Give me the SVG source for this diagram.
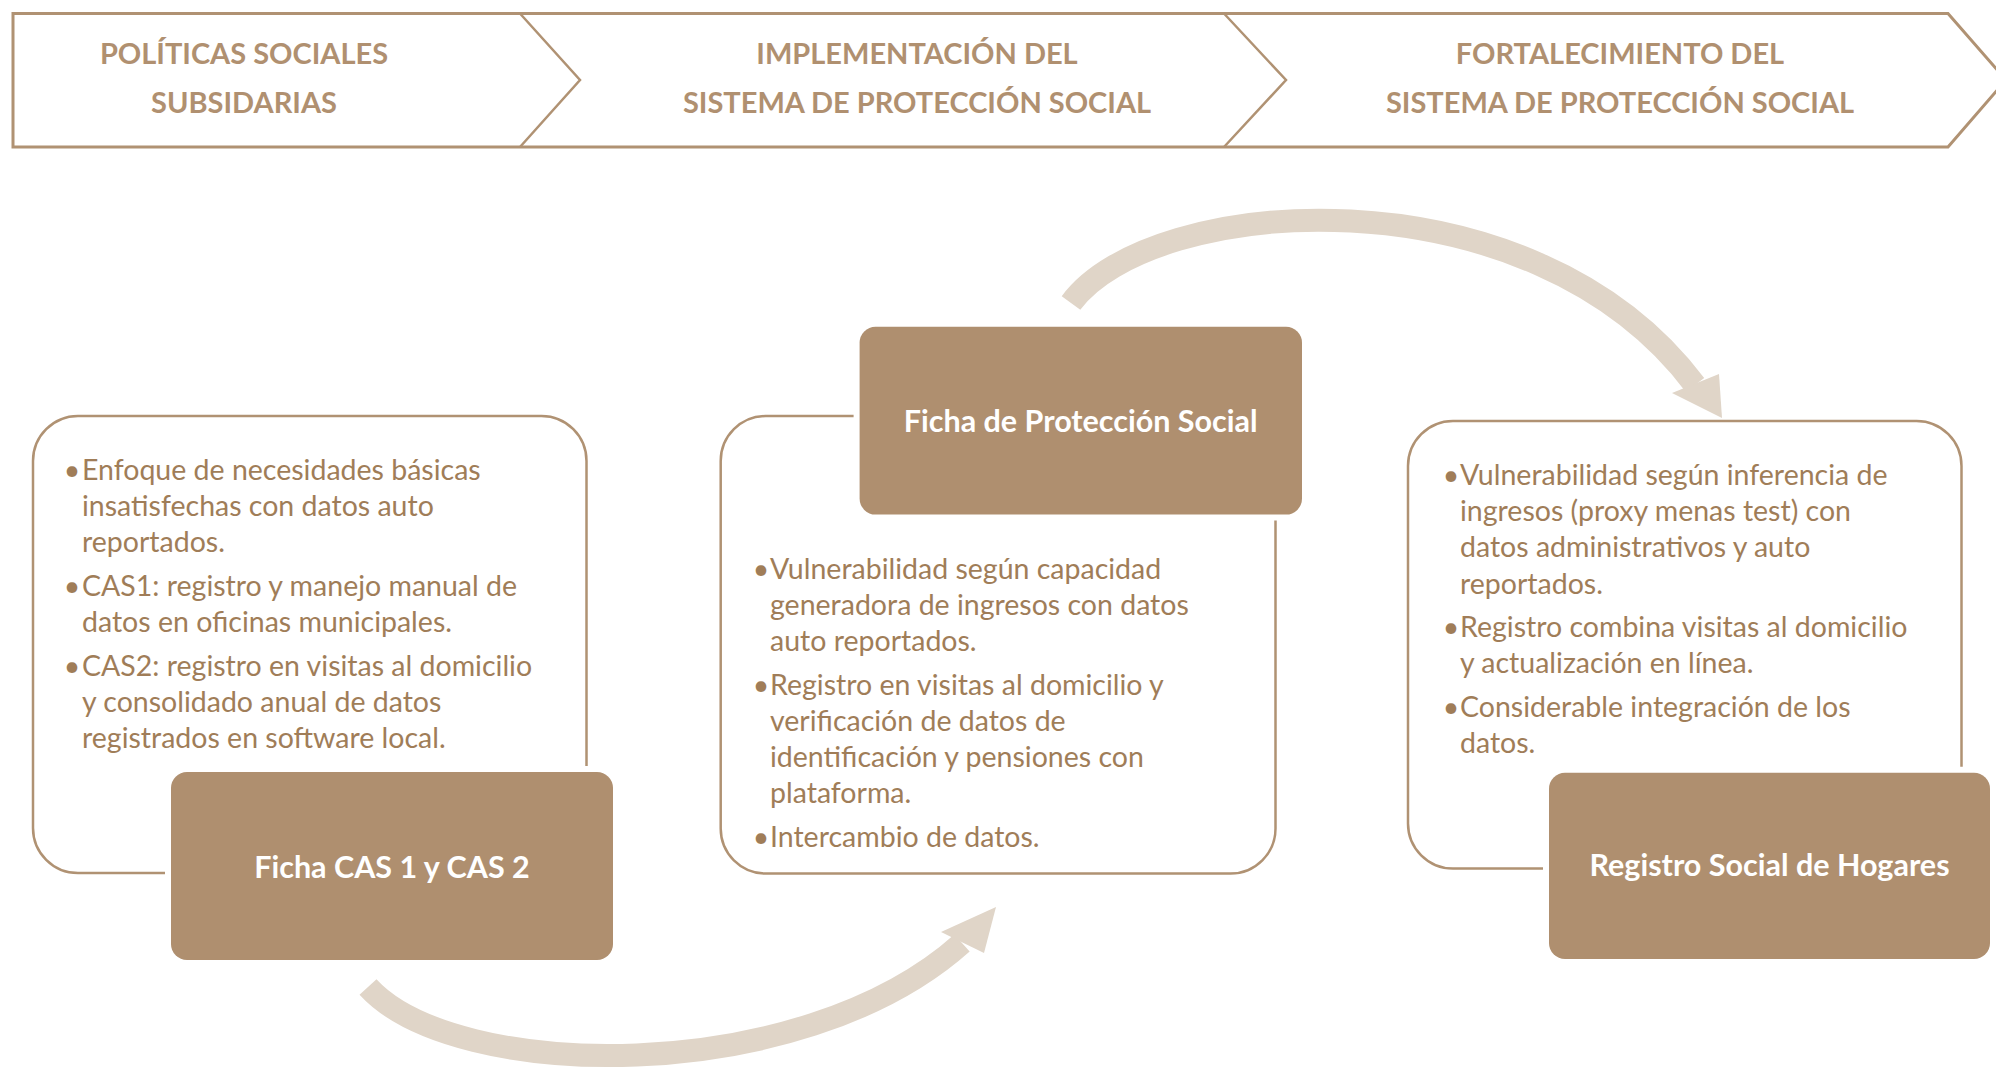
<svg xmlns="http://www.w3.org/2000/svg" width="1996" height="1069" viewBox="0 0 1996 1069">
<style>
.ban{fill:none;stroke:#B09273;stroke-width:3}
.chev{fill:none;stroke:#B09273;stroke-width:2.5}
.bt{font-family:Lato,"Open Sans",sans-serif;font-weight:700;font-size:29px;fill:#B09070;text-anchor:middle}
.frame{fill:#fff;stroke:#B09273;stroke-width:2.5}
.dark{fill:#AF8F6F;stroke:#fff;stroke-width:12;paint-order:stroke}
.lbl{font-family:Lato,"Open Sans",sans-serif;font-weight:700;font-size:30.5px;fill:#fff;text-anchor:middle}
.tx{font-family:Lato,"Open Sans",sans-serif;font-size:28.5px;fill:#A07D58}
.bu{font-family:Lato,"Open Sans",sans-serif;font-size:28.5px;fill:#A07D58;text-anchor:middle}
.arc{fill:none;stroke:#E0D5C8;stroke-width:23}
.head{fill:#E0D5C8}
</style>
<rect width="1996" height="1069" fill="#fff"/>
<g id="banner">
<path class="ban" d="M13,13.5 H1948 L2006,80 L1948,147 H13 Z"/>
<path class="chev" d="M520,13.5 L580,80 L520,147"/>
<path class="chev" d="M1224,13.5 L1286,80 L1224,147"/>
<text class="bt" x="244" y="64">POLÍTICAS SOCIALES</text>
<text class="bt" x="244" y="113">SUBSIDARIAS</text>
<text class="bt" x="917" y="64">IMPLEMENTACIÓN DEL</text>
<text class="bt" x="917" y="113">SISTEMA DE PROTECCIÓN SOCIAL</text>
<text class="bt" x="1620" y="64">FORTALECIMIENTO DEL</text>
<text class="bt" x="1620" y="113">SISTEMA DE PROTECCIÓN SOCIAL</text>
</g>
<g id="connectors">
<path class="arc" d="M368,987 C455,1082 800,1088 962,943"/>
<polygon class="head" points="941,932 996,907 984,953"/>
<path class="arc" d="M1071,303 C1150,195 1530,165 1695,385"/>
<polygon class="head" points="1672,393 1719,374 1722,418"/>
</g>
<g id="node-cas">
<rect class="frame" x="33" y="416" width="553.5" height="457" rx="45"/>
<text class="bu" x="72" y="480">•</text>
<text class="tx" x="82" y="480">Enfoque de necesidades básicas</text>
<text class="tx" x="82" y="516">insatisfechas con datos auto</text>
<text class="tx" x="82" y="552">reportados.</text>
<text class="bu" x="72" y="596">•</text>
<text class="tx" x="82" y="596">CAS1: registro y manejo manual de</text>
<text class="tx" x="82" y="632">datos en oficinas municipales.</text>
<text class="bu" x="72" y="676">•</text>
<text class="tx" x="82" y="676">CAS2: registro en visitas al domicilio</text>
<text class="tx" x="82" y="712">y consolidado anual de datos</text>
<text class="tx" x="82" y="748">registrados en software local.</text>
<rect class="dark" x="171" y="772" width="442" height="188" rx="16"/>
<text class="lbl" x="392" y="878">Ficha CAS 1 y CAS 2</text>
</g>
<g id="node-fps">
<rect class="frame" x="720.7" y="416" width="554.8" height="457.6" rx="45"/>
<rect class="dark" x="859.6" y="326.8" width="442.4" height="187.8" rx="16"/>
<text class="lbl" x="1080.7" y="432">Ficha de Protección Social</text>
<text class="bu" x="761" y="579">•</text>
<text class="tx" x="770" y="579">Vulnerabilidad según capacidad</text>
<text class="tx" x="770" y="615">generadora de ingresos con datos</text>
<text class="tx" x="770" y="651">auto reportados.</text>
<text class="bu" x="761" y="695">•</text>
<text class="tx" x="770" y="695">Registro en visitas al domicilio y</text>
<text class="tx" x="770" y="731">verificación de datos de</text>
<text class="tx" x="770" y="767">identificación y pensiones con</text>
<text class="tx" x="770" y="803">plataforma.</text>
<text class="bu" x="761" y="847">•</text>
<text class="tx" x="770" y="847">Intercambio de datos.</text>
</g>
<g id="node-rsh">
<rect class="frame" x="1408" y="421" width="553.5" height="447.5" rx="45"/>
<text class="bu" x="1451" y="485">•</text>
<text class="tx" x="1460" y="485">Vulnerabilidad según inferencia de</text>
<text class="tx" x="1460" y="521">ingresos (proxy menas test) con</text>
<text class="tx" x="1460" y="557">datos administrativos y auto</text>
<text class="tx" x="1460" y="593.5">reportados.</text>
<text class="bu" x="1451" y="637">•</text>
<text class="tx" x="1460" y="637">Registro combina visitas al domicilio</text>
<text class="tx" x="1460" y="673">y actualización en línea.</text>
<text class="bu" x="1451" y="717">•</text>
<text class="tx" x="1460" y="717">Considerable integración de los</text>
<text class="tx" x="1460" y="753">datos.</text>
<rect class="dark" x="1549" y="772.7" width="441" height="186.3" rx="16"/>
<text class="lbl" x="1769.5" y="876">Registro Social de Hogares</text>
</g>
</svg>
